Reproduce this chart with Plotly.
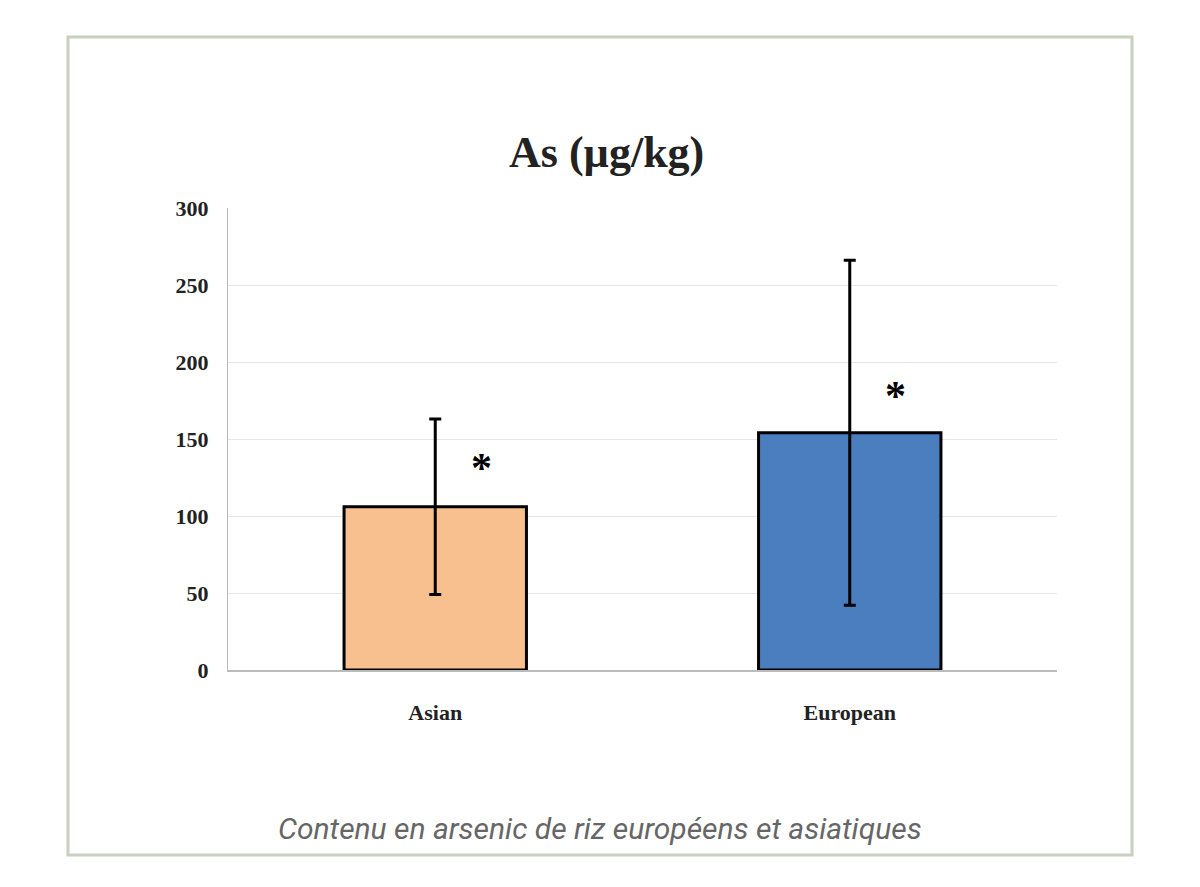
import plotly.graph_objects as go

categories = ["Asian", "European"]
means = [106, 154]
errors = [57, 112]
colors = ["#F8C08F", "#4A7EBF"]
star_y = [131, 178]

W, H = 1200, 887
OFF = 8  # page body margin shifts the figure
L, R, T, B = 228 - OFF, 1200 - 1057 + OFF, 208 - OFF, 887 - 670 + OFF
pw, ph = W - L - R, H - T - B

def px(x):
    return (x - OFF - L) / pw

def py(y):
    return (H - B - (y - OFF)) / ph

fig = go.Figure()
fig.add_trace(go.Bar(
    x=categories, y=means, width=0.44,
    marker=dict(color=colors, line=dict(color="black", width=3)),
    error_y=dict(type="data", array=errors, visible=True, color="black", thickness=3, width=6),
))
for c, s in zip(categories, star_y):
    fig.add_annotation(x=c, y=s, text="<b>*</b>", showarrow=False, xshift=46,
                       font=dict(family="Liberation Serif", size=42, color="black"))

fig.add_annotation(x=px(606), y=py(152), xref="paper", yref="paper", showarrow=False, yanchor="middle",
                   text="<b>As (µg/kg)</b>", font=dict(family="Liberation Serif", size=44, color="#222"))
fig.add_annotation(x=px(600), y=py(828), xref="paper", yref="paper", showarrow=False, yanchor="middle",
                   text="<i>Contenu en arsenic de riz européens et asiatiques</i>",
                   font=dict(family="Roboto", size=30, color="#666"))
fig.add_shape(type="rect", xref="paper", yref="paper", x0=px(68), x1=px(1132), y0=py(855), y1=py(37),
              line=dict(color="#C8D0C0", width=3), fillcolor="rgba(0,0,0,0)", layer="below")

fig.update_layout(
    width=W, height=H, margin=dict(l=L, r=R, t=T, b=B),
    plot_bgcolor="white", paper_bgcolor="white", showlegend=False,
    xaxis=dict(showline=True, linecolor="#BBBBBB", linewidth=2, ticks="",
               tickfont=dict(family="Liberation Serif", size=22, color="#222", weight="bold")),
    yaxis=dict(range=[0, 300], dtick=50, showgrid=True, gridcolor="#E6E6E6",
               showline=True, linecolor="#BBBBBB", linewidth=1, zeroline=False,
               tickfont=dict(family="Liberation Serif", size=22, color="#222", weight="bold")),
)
fig.update_yaxes(ticklabelstandoff=14)
fig.update_xaxes(ticklabelstandoff=22)
fig.write_html("out.html")
